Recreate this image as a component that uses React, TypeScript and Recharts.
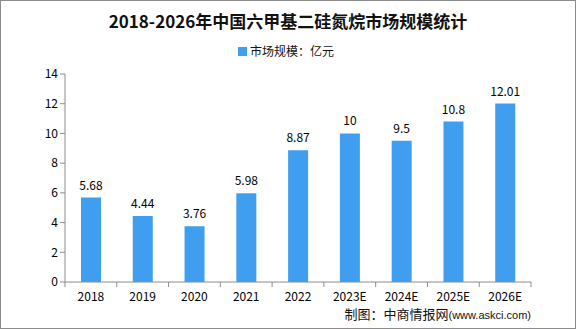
import { BarChart, Bar, XAxis, YAxis, LabelList } from 'recharts'

const years = ['2018', '2019', '2020', '2021', '2022', '2023E', '2024E', '2025E', '2026E']
const marketSize = [5.68, 4.44, 3.76, 5.98, 8.87, 10, 9.5, 10.8, 12.01]
const yTicks = [0, 2, 4, 6, 8, 10, 12, 14]

const data = years.map((year, i) => ({ year, value: marketSize[i] }))

const W = 576
const H = 329
const PLOT_LEFT = 65
const PLOT_RIGHT = 531
const BAND = (PLOT_RIGHT - PLOT_LEFT) / years.length
const BAR_COLOR = '#409ef0'
const AXIS_COLOR = '#8c8c8c'
const FONT = "SimSun, 'Noto Sans CJK SC', sans-serif"

function YearTick(props: any) {
  const { x, y, payload, index } = props
  const left = x - BAND / 2
  return (
    <g>
      <line x1={left} y1={y - 8} x2={left} y2={y - 3} stroke={AXIS_COLOR} />
      {index === years.length - 1 && (
        <line x1={left + BAND} y1={y - 8} x2={left + BAND} y2={y - 3} stroke={AXIS_COLOR} />
      )}
      <text x={x} y={y + 11} textAnchor="middle" fontSize={12} fill="#000" fontFamily={FONT}>
        {payload.value}
      </text>
    </g>
  )
}

export default function App() {
  return (
    <div style={{ position: 'absolute', left: 0, top: 0, width: W, height: H, background: '#fff', overflow: 'hidden' }}>
      <div style={{
        position: 'absolute', left: 0, top: 10, width: W, textAlign: 'center',
        fontFamily: "'Noto Sans CJK SC', sans-serif", fontWeight: 700, fontSize: 17, lineHeight: '22px', color: '#111',
      }}>
        2018-2026年中国六甲基二硅氮烷市场规模统计
      </div>
      <div style={{
        position: 'absolute', left: 238, top: 43, display: 'flex', alignItems: 'center',
        fontFamily: "'Noto Sans CJK SC', sans-serif", fontSize: 12, color: '#111', lineHeight: '16px',
      }}>
        <span style={{ display: 'inline-block', width: 9, height: 9, background: BAR_COLOR, marginRight: 3 }} />
        市场规模：亿元
      </div>
      <BarChart
        width={W}
        height={H}
        data={data}
        margin={{ top: 74, right: W - PLOT_RIGHT, bottom: 17, left: 30 }}
        style={{ position: 'absolute', left: 0, top: 0 }}
      >
        <XAxis
          dataKey="year"
          height={30}
          axisLine={{ stroke: AXIS_COLOR }}
          tickLine={false}
          tick={<YearTick />}
          interval={0}
        />
        <YAxis
          width={35}
          domain={[0, 14]}
          ticks={yTicks}
          axisLine={{ stroke: AXIS_COLOR }}
          tickLine={{ stroke: AXIS_COLOR }}
          tickSize={5}
          tick={{ fill: '#000', fontSize: 12, fontFamily: FONT }}
        />
        <Bar dataKey="value" fill={BAR_COLOR} barSize={20} isAnimationActive={false}>
          <LabelList dataKey="value" position="top" offset={8} fill="#000" fontSize={12} fontFamily={FONT} />
        </Bar>
      </BarChart>
      <div style={{
        position: 'absolute', right: W - PLOT_RIGHT, top: 305, whiteSpace: 'nowrap', color: '#111',
        fontFamily: "'Noto Sans CJK SC', sans-serif", fontSize: 13, lineHeight: '18px',
      }}>
        制图：中商情报网<span style={{ fontFamily: "'Liberation Sans', Arial, sans-serif", fontSize: 11 }}>(www.askci.com)</span>
      </div>
      <div style={{ position: 'absolute', inset: 0, border: `1px solid ${AXIS_COLOR}`, pointerEvents: 'none' }} />
    </div>
  )
}
